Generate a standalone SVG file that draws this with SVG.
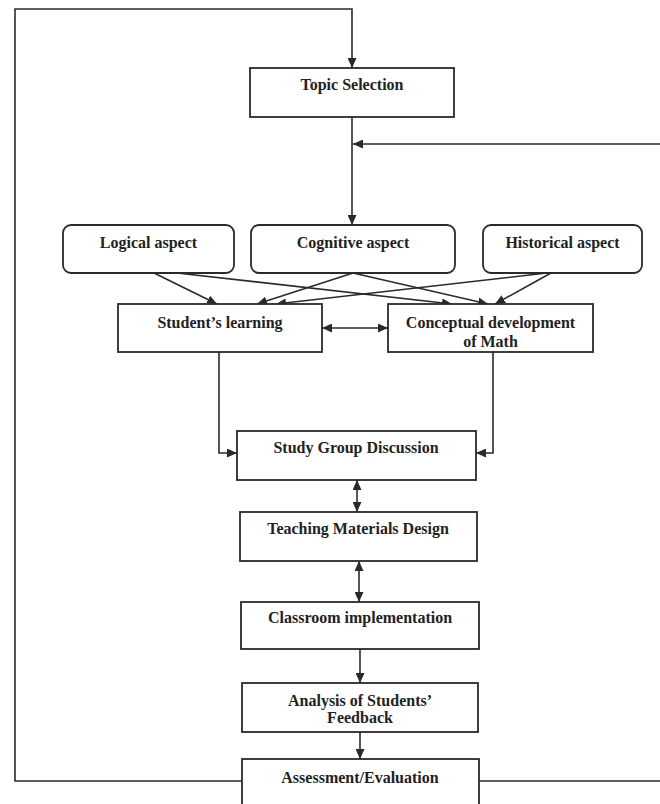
<svg xmlns="http://www.w3.org/2000/svg" width="660" height="804" viewBox="0 0 660 804">
<style>
.box{fill:#fff;stroke:#2a2a2a;stroke-width:1.8}
.lbl{font-family:"Liberation Serif","Times New Roman",serif;font-weight:bold;font-size:16px;fill:#222;text-anchor:middle}
.con{fill:none;stroke:#2a2a2a;stroke-width:1.6}
.arr{marker-end:url(#ah)}
.dbl{marker-start:url(#ah);marker-end:url(#ah)}
</style>
<defs>
<marker id="ah" markerUnits="userSpaceOnUse" markerWidth="11" markerHeight="9" refX="10" refY="4.5" orient="auto-start-reverse">
<path d="M0,0 L10,4.5 L0,9 Z" fill="#2a2a2a"/>
</marker>
</defs>
<rect width="660" height="804" fill="#fff"/>
<g id="connectors">
<path class="con arr" d="M242,781 H15 V9 H352 V68"/>
<path class="con arr" d="M352,117 V225"/>
<path class="con arr" d="M660,144 H353"/>
<path class="con arr" d="M154,273 L217,304"/>
<path class="con arr" d="M177,273 L452,304"/>
<path class="con arr" d="M353,273 L257,304"/>
<path class="con arr" d="M353,273 L488,304"/>
<path class="con arr" d="M547,273 L276,304"/>
<path class="con arr" d="M551,273 L495,304"/>
<path class="con dbl" d="M322,328 H388"/>
<path class="con arr" d="M219,352 V453 H237"/>
<path class="con arr" d="M493,352 V453 H476"/>
<path class="con dbl" d="M357,480 V512"/>
<path class="con dbl" d="M359,561 V602"/>
<path class="con arr" d="M360,649 V683"/>
<path class="con arr" d="M360,732 V759"/>
<path class="con" d="M479,781 H660"/>
</g>
<g id="topic"><rect class="box" x="250" y="68" width="204" height="49"/><text class="lbl" x="352" y="90">Topic Selection</text></g>
<g id="logical"><rect class="box" x="63" y="225" width="171" height="48" rx="8"/><text class="lbl" x="148.5" y="248">Logical aspect</text></g>
<g id="cognitive"><rect class="box" x="251" y="225" width="204" height="48" rx="8"/><text class="lbl" x="353" y="248">Cognitive aspect</text></g>
<g id="historical"><rect class="box" x="483" y="225" width="159" height="48" rx="8"/><text class="lbl" x="562.5" y="248">Historical aspect</text></g>
<g id="student"><rect class="box" x="118" y="304" width="204" height="48"/><text class="lbl" x="220" y="328">Student’s learning</text></g>
<g id="conceptual"><rect class="box" x="388" y="304" width="205" height="48"/><text class="lbl" x="490.5" y="328">Conceptual development</text><text class="lbl" x="490.5" y="347">of Math</text></g>
<g id="study"><rect class="box" x="237" y="431" width="239" height="49"/><text class="lbl" x="356" y="453">Study Group Discussion</text></g>
<g id="teaching"><rect class="box" x="240" y="512" width="237" height="49"/><text class="lbl" x="358" y="534">Teaching Materials Design</text></g>
<g id="classroom"><rect class="box" x="241" y="602" width="238" height="47"/><text class="lbl" x="360" y="623">Classroom implementation</text></g>
<g id="analysis"><rect class="box" x="242" y="683" width="236" height="49"/><text class="lbl" x="360" y="706">Analysis of Students’</text><text class="lbl" x="360" y="723">Feedback</text></g>
<g id="assessment"><rect class="box" x="242" y="759" width="237" height="60"/><text class="lbl" x="360" y="783">Assessment/Evaluation</text></g>
</svg>
